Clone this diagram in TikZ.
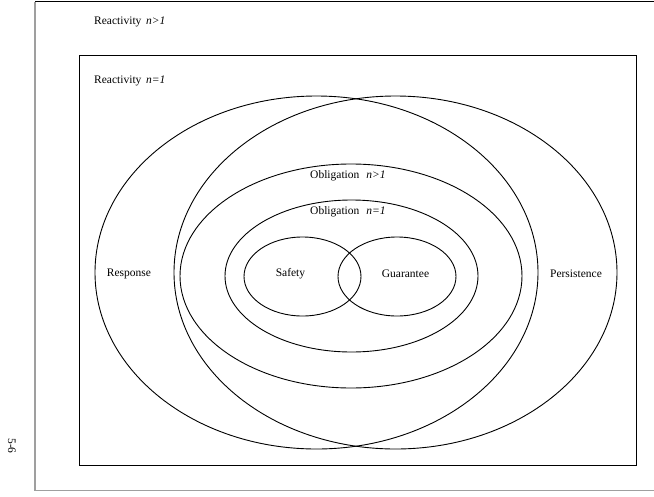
\documentclass[tikz,border=0pt]{standalone}
\usepackage{fontspec}
\setmainfont{Liberation Serif}
\begin{document}
\begin{tikzpicture}[x=1pt,y=-1pt,
  lbl/.style={inner sep=0pt,font=\fontsize{11.5}{13}\selectfont},
  ring/.style={draw=black,line width=0.9pt},
  frame/.style={draw=black,line width=1pt}]
\useasboundingbox (0,0) rectangle (654,496);
\begin{scope}
\clip (0,0) rectangle (654,496);
% outer frame (right edge off the page)
\draw[black,line width=1pt] (35,1.5) -- (660,1.5);
\draw[gray!75,line width=1.5pt] (35,1.5) -- (35,490.5) -- (660,490.5);
\end{scope}
% inner frame
\draw[frame] (79,55.5) rectangle (636,465);
% big ellipses
\draw[ring] (316.5,272.5) ellipse [x radius=221.5pt, y radius=176.5pt];
\draw[ring] (395.5,272.5) ellipse [x radius=221.5pt, y radius=176.5pt];
% obligation ellipses
\draw[ring] (351,276) ellipse [x radius=171pt, y radius=112pt];
\draw[ring] (351.5,276) ellipse [x radius=126.5pt, y radius=76pt];
% safety / guarantee
\draw[ring] (302.5,276.5) ellipse [x radius=58.5pt, y radius=39.5pt];
\draw[ring] (397,276.5) ellipse [x radius=59pt, y radius=39.5pt];
% labels
\node[lbl,anchor=west] (r2) at (94,21.5) {Reactivity\hspace{0.4em}\textit{n>1}};
\node[lbl,anchor=west] (r1) at (94,81) {Reactivity\hspace{0.4em}\textit{n=1}};
\node[lbl,anchor=west] (o2) at (310,176) {Obligation\hspace{0.6em}\textit{n>1}};
\node[lbl,anchor=west] (o1) at (310,211.5) {Obligation\hspace{0.6em}\textit{n=1}};
\node[lbl] (resp) at (129,273.5) {Response};
\node[lbl] (safe) at (290.5,273.5) {Safety};
\node[lbl] (guar) at (405.5,273.5) {Guarantee};
\node[lbl] (pers) at (576,273.5) {Persistence};
\node[lbl,rotate=-90] (pg) at (12,446) {5-6};
\end{tikzpicture}
\end{document}
